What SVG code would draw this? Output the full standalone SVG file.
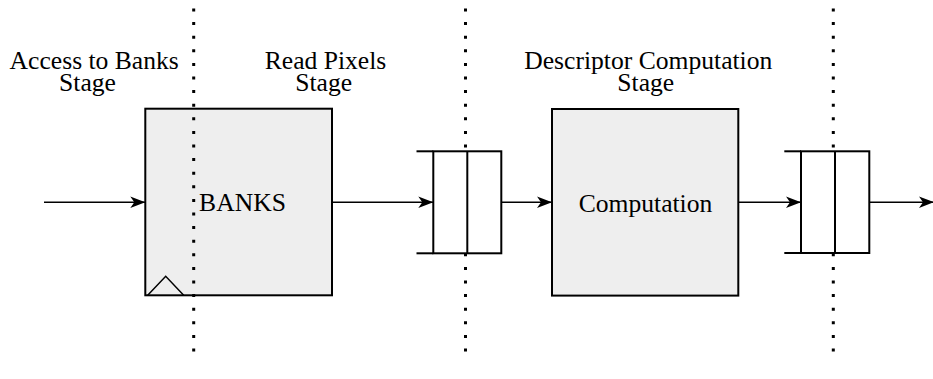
<svg xmlns="http://www.w3.org/2000/svg" width="933" height="379" viewBox="0 0 933 379">
  <defs>
    <style>
      .block { fill: #eeeeee; stroke: #000000; stroke-width: 2; }
      .reg { fill: #ffffff; stroke: #000000; stroke-width: 2; }
      .regline { fill: none; stroke: #000000; stroke-width: 2; }
      .wire { fill: none; stroke: #000000; stroke-width: 1.5; marker-end: url(#arrow); }
      .stage { fill: none; stroke: #000000; stroke-width: 3; stroke-dasharray: 3 10.6; }
      .label { font-size: 25.6px; fill: #000000; text-anchor: middle; }
    </style>
    <marker id="arrow" markerUnits="userSpaceOnUse" markerWidth="16" markerHeight="12" viewBox="-15 -6 16 12" refX="0" refY="0" orient="auto">
      <path d="M0,0 L-15,-5.8 L-11,0 L-15,5.8 Z" fill="#000000"/>
    </marker>
  </defs>

  <!-- stage titles -->
  <g id="stage-titles" font-family="'Liberation Serif', 'DejaVu Serif', serif">
    <text class="label"><tspan x="94.2" y="69">Access to Banks</tspan><tspan x="87.5" y="91">Stage</tspan></text>
    <text class="label"><tspan x="325.5" y="69">Read Pixels</tspan><tspan x="323.7" y="91">Stage</tspan></text>
    <text class="label"><tspan x="648.3" y="69">Descriptor Computation</tspan><tspan x="645.8" y="91">Stage</tspan></text>
  </g>

  <!-- memory banks block with clock input -->
  <g id="banks" font-family="'Liberation Serif', 'DejaVu Serif', serif">
    <rect class="block" x="145.3" y="108.7" width="186.7" height="186.6"/>
    <path d="M147.7,295.3 L165.7,276.3 L183.7,295.3" fill="none" stroke="#000000" stroke-width="1.5"/>
    <text class="label" x="242.5" y="210.5">BANKS</text>
  </g>

  <!-- descriptor computation block -->
  <g id="computation" font-family="'Liberation Serif', 'DejaVu Serif', serif">
    <rect class="block" x="552" y="109" width="186.3" height="186.6"/>
    <text class="label" x="645.5" y="211.5">Computation</text>
  </g>

  <!-- pipeline stage boundaries -->
  <g id="stage-boundaries">
    <line class="stage" x1="193.7" y1="8.5" x2="193.7" y2="352"/>
    <line class="stage" x1="465.5" y1="8.5" x2="465.5" y2="352"/>
    <line class="stage" x1="833.3" y1="8.5" x2="833.3" y2="352"/>
  </g>

  <!-- pipeline register after BANKS -->
  <g id="register-1">
    <rect class="reg" x="433.3" y="151.3" width="68" height="102"/>
    <line class="regline" x1="467.3" y1="151.3" x2="467.3" y2="253.3"/>
    <line class="regline" x1="416.5" y1="151.3" x2="433.3" y2="151.3"/>
    <line class="regline" x1="416.5" y1="253.3" x2="433.3" y2="253.3"/>
  </g>

  <!-- pipeline register after Computation -->
  <g id="register-2">
    <rect class="reg" x="801" y="151.3" width="68.3" height="101.7"/>
    <line class="regline" x1="835" y1="151.3" x2="835" y2="253"/>
    <line class="regline" x1="784.3" y1="151.3" x2="801" y2="151.3"/>
    <line class="regline" x1="784.3" y1="253" x2="801" y2="253"/>
  </g>

  <!-- data path -->
  <g id="connectors">
    <line class="wire" x1="44" y1="202.2" x2="145.3" y2="202.2"/>
    <line class="wire" x1="332" y1="202.2" x2="433.3" y2="202.2"/>
    <line class="wire" x1="501.3" y1="202.2" x2="552" y2="202.2"/>
    <line class="wire" x1="738.3" y1="202.2" x2="801" y2="202.2"/>
    <line class="wire" x1="869.3" y1="202.2" x2="934" y2="202.2"/>
  </g>
</svg>
